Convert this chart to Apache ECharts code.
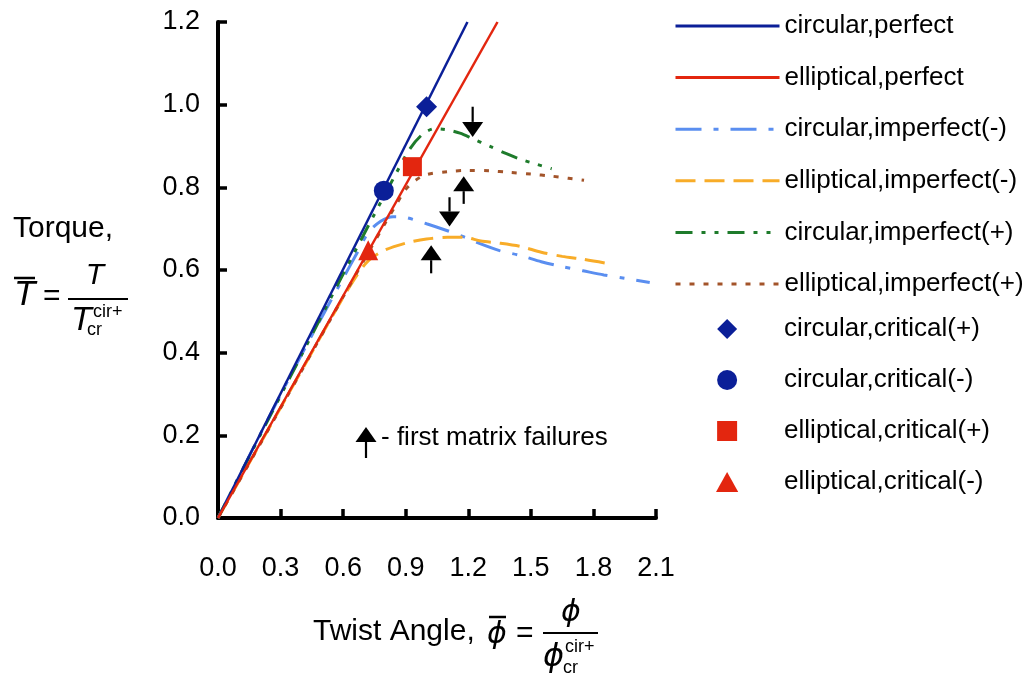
<!DOCTYPE html>
<html>
<head>
<meta charset="utf-8">
<script src="https://cdn.jsdelivr.net/npm/echarts/dist/echarts.min.js"></script>
<style>
  html, body { margin: 0; padding: 0; background: #fff; }
  #main { width: 1036px; height: 680px; }
</style>
</head>
<body>
<div id="main"></div>
<script>
// axis ticks
var xTicks = { min: 0, max: 2.1, step: 0.3 };
var yTicks = { min: 0, max: 1.2, step: 0.2 };

// series names (legend text)
var lineNames = ["circular,perfect", "elliptical,perfect", "circular,imperfect(-)",
  "elliptical,imperfect(-)", "circular,imperfect(+)", "elliptical,imperfect(+)"];
var markerNames = ["circular,critical(+)", "circular,critical(-)",
  "elliptical,critical(+)", "elliptical,critical(-)"];

// [twist angle, torque]
var circPerfect = [[0, 0], [1.196, 1.2]];
var ellPerfect = [[0, 0], [1.34, 1.2]];
var circImpMinus = [[0, 0], [0.2, 0.2], [0.4, 0.395], [0.6, 0.58], [0.66, 0.635], [0.72, 0.69],
  [0.78, 0.718], [0.84, 0.729], [0.9, 0.727], [1.0, 0.712], [1.1, 0.695], [1.18, 0.68],
  [1.25, 0.665], [1.35, 0.647], [1.45, 0.635], [1.55, 0.62], [1.65, 0.608], [1.75, 0.598],
  [1.85, 0.588], [1.95, 0.58], [2.07, 0.57]];
var ellImpMinus = [[0, 0], [0.2, 0.178], [0.4, 0.356], [0.55, 0.49], [0.65, 0.575], [0.72, 0.622],
  [0.8, 0.648], [0.9, 0.665], [1.0, 0.675], [1.1, 0.679], [1.18, 0.679], [1.26, 0.67],
  [1.35, 0.665], [1.45, 0.657], [1.55, 0.643], [1.65, 0.633], [1.75, 0.626], [1.854, 0.617]];
var circImpPlus = [[0, 0], [0.2, 0.198], [0.4, 0.394], [0.6, 0.59], [0.75, 0.735], [0.85, 0.83],
  [0.92, 0.893], [0.98, 0.928], [1.04, 0.942], [1.1, 0.939], [1.16, 0.931], [1.22, 0.918],
  [1.3, 0.9], [1.38, 0.882], [1.45, 0.868], [1.52, 0.857], [1.6, 0.845]];
var ellImpPlus = [[0, 0], [0.3, 0.266], [0.6, 0.535], [0.8, 0.712], [0.86, 0.763], [0.9, 0.795],
  [0.95, 0.818], [1.0, 0.831], [1.1, 0.838], [1.2, 0.841], [1.3, 0.84], [1.4, 0.836],
  [1.5, 0.832], [1.6, 0.827], [1.68, 0.822], [1.755, 0.817]];

// critical points
var critCircPlus = [[1.0, 0.995]];
var critCircMinus = [[0.795, 0.792]];
var critEllPlus = [[0.932, 0.85]];
var critEllMinus = [[0.72, 0.648]];

// first matrix failure arrows: [x, tail y, tip y]
var failureArrows = [[1.221, 0.995, 0.922], [1.178, 0.76, 0.827], [1.11, 0.776, 0.705], [1.022, 0.592, 0.66]];

var font = '"Liberation Sans", Arial, sans-serif';
var darkBlue = "#0b1f98", red = "#e3260f";

// legend icons that keep their aspect inside the wide legend box
var iconDiamond = "path://M0,-1L1,0L0,1L-1,0Z";
var iconSquare = "path://M0,0H1V1H0Z";
var iconTriangle = "path://M0.5,0L1,0.9H0Z";

function lineSeries(name, data, color, width, type, z) {
  return {
    name: name, type: "line", data: data, symbol: "none", smooth: 0.3, z: z,
    lineStyle: { color: color, width: width, type: type }, itemStyle: { color: color }
  };
}
function markSeries(name, data, symbol, size, color) {
  return {
    name: name, type: "scatter", data: data, symbol: symbol, symbolSize: size, z: 6,
    itemStyle: { color: color, opacity: 1 }
  };
}

function arrowItem(params, api) {
  var tail = api.coord([api.value(0), api.value(1)]);
  var tip = api.coord([api.value(0), api.value(2)]);
  var dir = tip[1] > tail[1] ? 1 : -1;
  var base = tip[1] - dir * 15;
  return {
    type: "group",
    children: [
      { type: "line", shape: { x1: tail[0], y1: tail[1], x2: tip[0], y2: base }, style: { stroke: "#000", lineWidth: 2.2 } },
      { type: "polygon", shape: { points: [[tip[0], tip[1]], [tip[0] - 10.5, base], [tip[0] + 10.5, base]] }, style: { fill: "#000" } }
    ]
  };
}

function txt(x, y, s, size, opts) {
  opts = opts || {};
  return {
    type: "text", x: x, y: y,
    style: {
      text: s, fill: "#000", align: opts.align || "left", verticalAlign: "middle",
      font: (opts.italic ? "italic " : "") + size + "px " + (opts.family || font)
    }
  };
}
function bar(x1, x2, y, w) {
  return { type: "line", shape: { x1: x1, y1: y, x2: x2, y2: y }, style: { stroke: "#000", lineWidth: w || 2 } };
}

var chartDom = document.getElementById("main");
var myChart = echarts.init(chartDom);
var option = {
  animation: false,
  backgroundColor: "#fff",
  textStyle: { fontFamily: font },
  grid: { left: 218, top: 22, width: 438, height: 496 },
  xAxis: {
    type: "value", min: xTicks.min, max: xTicks.max, interval: xTicks.step,
    axisLine: { lineStyle: { color: "#000", width: 4 } },
    axisTick: { inside: true, length: 9, lineStyle: { color: "#000", width: 3.5 } },
    axisLabel: { color: "#000", fontSize: 27, margin: 37, fontFamily: font, formatter: function (v) { return v.toFixed(1); } },
    splitLine: { show: false }
  },
  yAxis: {
    type: "value", min: yTicks.min, max: yTicks.max, interval: yTicks.step,
    axisLine: { lineStyle: { color: "#000", width: 4 } },
    axisTick: { inside: true, length: 9, lineStyle: { color: "#000", width: 3.5 } },
    axisLabel: { color: "#000", fontSize: 27, margin: 18, fontFamily: font, formatter: function (v) { return v.toFixed(1); } },
    splitLine: { show: false }
  },
  legend: [
    {
      data: lineNames, orient: "vertical", left: 669, top: 8, itemWidth: 104, itemHeight: 14, itemGap: 25.6,
      selectedMode: false, itemStyle: { opacity: 0 }, lineStyle: { width: 3 },
      textStyle: { fontSize: 26, color: "#000", fontFamily: font }
    },
    {
      data: [
        { name: markerNames[0], icon: iconDiamond },
        { name: markerNames[1], icon: "circle" },
        { name: markerNames[2], icon: iconSquare },
        { name: markerNames[3], icon: iconTriangle }
      ],
      orient: "vertical", left: 711, top: 311, itemWidth: 104, itemHeight: 20, itemGap: 25,
      selectedMode: false, symbolKeepAspect: true,
      textStyle: { fontSize: 26, color: "#000", fontFamily: font }
    }
  ],
  series: [
    lineSeries(lineNames[2], circImpMinus, "#5a8ef0", 3, [26, 12, 5, 12], 2),
    lineSeries(lineNames[3], ellImpMinus, "#f8ac28", 3, [20, 9], 2),
    lineSeries(lineNames[4], circImpPlus, "#1e7b2b", 3, [17, 9, 4, 9, 4, 9], 2),
    lineSeries(lineNames[5], ellImpPlus, "#a3542a", 3, [5, 9], 2),
    lineSeries(lineNames[0], circPerfect, darkBlue, 2.5, "solid", 3),
    lineSeries(lineNames[1], ellPerfect, red, 2.5, "solid", 3),
    markSeries(markerNames[0], critCircPlus, "diamond", 21, darkBlue),
    markSeries(markerNames[1], critCircMinus, "circle", 20, darkBlue),
    markSeries(markerNames[2], critEllPlus, "rect", 19, red),
    markSeries(markerNames[3], critEllMinus, "triangle", 20, red),
    {
      name: "first matrix failures", type: "custom", data: failureArrows, renderItem: arrowItem,
      encode: { x: 0, y: [1, 2] }, clip: false, z: 7
    }
  ],
  graphic: [
    // failure key
    { type: "polygon", shape: { points: [[366, 427], [355.5, 442], [376.5, 442]] }, style: { fill: "#000" } },
    { type: "line", shape: { x1: 366, y1: 440, x2: 366, y2: 458 }, style: { stroke: "#000", lineWidth: 2.2 } },
    txt(381, 438, "- first matrix failures", 26),
    // y axis title
    txt(13, 229, "Torque,", 30),
    txt(14, 295, "T", 35, { italic: true }),
    bar(14, 35, 278, 2.5),
    txt(43, 297, "=", 30),
    txt(95, 276, "T", 30, { italic: true, align: "center" }),
    bar(68, 128, 299, 2),
    txt(71, 321, "T", 34, { italic: true }),
    txt(93, 312, "cir+", 18),
    txt(87, 330, "cr", 18),
    // x axis title
    txt(313, 632, "Twist Angle,", 30),
    txt(487, 635, "\u03D5", 30, { italic: true, family: '"DejaVu Sans", sans-serif' }),
    bar(489, 506, 617, 2.5),
    txt(516, 634, "=", 30),
    txt(571, 613, "\u03D5", 30, { italic: true, align: "center", family: '"DejaVu Sans", sans-serif' }),
    bar(543, 598, 633, 2),
    txt(543, 658, "\u03D5", 32, { italic: true, family: '"DejaVu Sans", sans-serif' }),
    txt(565, 647, "cir+", 18),
    txt(563, 668, "cr", 18)
  ]
};
option && myChart.setOption(option);
</script>
</body>
</html>
